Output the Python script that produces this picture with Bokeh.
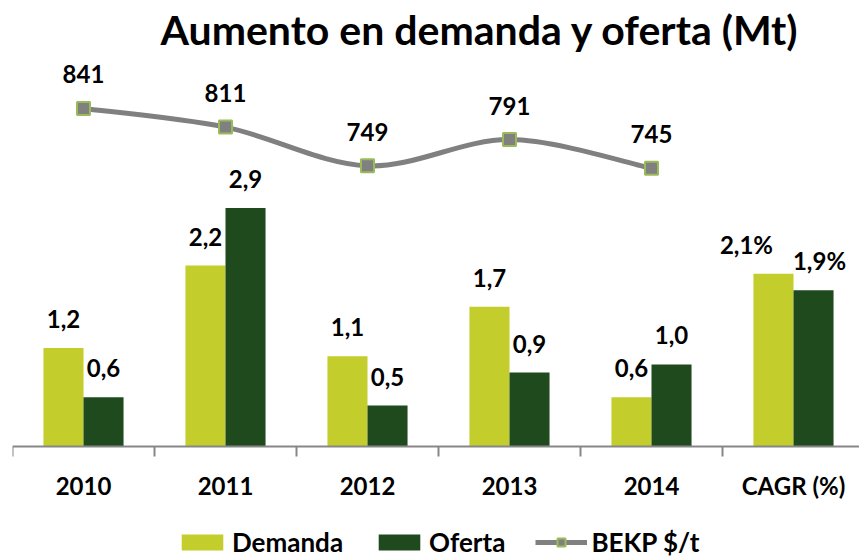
from bokeh.plotting import figure
from bokeh.models import (Range1d, FixedTicker, Legend, LegendItem,
                          ColumnDataSource, LabelSet)
from bokeh.core.properties import value
from bokeh.embed import file_html
from bokeh.resources import INLINE

# ---- data ----
categories = ["2010", "2011", "2012", "2013", "2014", "CAGR (%)"]
demanda = [1.2, 2.2, 1.1, 1.7, 0.6, 2.1]
oferta = [0.6, 2.9, 0.5, 0.9, 1.0, 1.9]
bekp_years = ["2010", "2011", "2012", "2013", "2014"]
bekp = [841, 811, 749, 791, 745]

# ---- styles ----
FONT = "Lato"
DEM_C = "#c3cd2b"
OF_C = "#1f4a1e"
GRAY = "#808080"
AXIS_C = "#878787"
dem_label_dx = [0, 0, 0, 0, 0, -27]   # pixel nudges of the data labels
of_label_dx = [0, 0, 0, 0, 0, 6]

def fmt(v, pct=False):
    s = f"{v:.1f}".replace(".", ",")
    return s + "%" if pct else s

n = len(categories)
centers = [i + 0.5 for i in range(n)]
bw = 0.282

W, H = 859, 559
LEFT = 12         # frame left (px)
CAT_W = 142       # px per category
TOP = 55          # frame top (px)
BOT = H           # frame bottom (px)
BASE = 446        # px of the bar baseline
PX_BAR = 82.5     # px per Mt
PX_BEKP = 0.625   # px per $/t
Y841 = 107        # px of first BEKP point

p = figure(width=W, height=H, output_backend="svg", toolbar_location=None,
           x_range=Range1d(0, (W - LEFT) / CAT_W),
           y_range=Range1d(-(BOT - BASE) / PX_BAR, (BASE - TOP) / PX_BAR),
           y_axis_location=None, min_border_left=LEFT, min_border_right=0,
           min_border_top=TOP, min_border_bottom=0)
p.extra_y_ranges = {"bekp": Range1d(841 - (BOT - Y841) / PX_BEKP,
                                    841 + (Y841 - TOP) / PX_BEKP)}
p.outline_line_color = None
p.xgrid.visible = False
p.ygrid.visible = False

p.title.text = "Aumento en demanda y oferta (Mt)"
p.title.text_font = FONT
p.title.text_font_size = "41px"
p.title.text_font_style = "bold"
p.title.text_color = "black"
p.title.align = "left"
p.title.offset = 148
p.title.standoff = 5

is_pct = [c.startswith("CAGR") for c in categories]
dsrc = ColumnDataSource(dict(
    x=[c - bw / 2 for c in centers], top=demanda, dx=dem_label_dx,
    lab=[fmt(v, q) for v, q in zip(demanda, is_pct)]))
osrc = ColumnDataSource(dict(
    x=[c + bw / 2 for c in centers], top=oferta, dx=of_label_dx,
    lab=[fmt(v, q) for v, q in zip(oferta, is_pct)]))

r_dem = p.vbar(x="x", top="top", width=bw, source=dsrc, fill_color=DEM_C, line_color=None)
r_of = p.vbar(x="x", top="top", width=bw, source=osrc, fill_color=OF_C, line_color=None)

for src in (dsrc, osrc):
    p.add_layout(LabelSet(x="x", y="top", text="lab", source=src, x_offset="dx",
                          y_offset=20, text_align="center", text_baseline="alphabetic",
                          text_font=value(FONT), text_font_size=value("24px"),
                          text_font_style="bold", text_color="black"))

# BEKP smoothed line (Catmull-Rom -> cubic Bezier, computed from the data)
bx = [categories.index(y) + 0.5 for y in bekp_years]
m = len(bx)
x0, y0, x1, y1, cx0, cy0, cx1, cy1 = ([] for _ in range(8))
for i in range(m - 1):
    pxm, pym = (bx[i - 1], bekp[i - 1]) if i > 0 else (bx[i], bekp[i])
    pxp, pyp = (bx[i + 2], bekp[i + 2]) if i + 2 < m else (bx[i + 1], bekp[i + 1])
    x0.append(bx[i]); y0.append(bekp[i])
    x1.append(bx[i + 1]); y1.append(bekp[i + 1])
    cx0.append(bx[i] + (bx[i + 1] - pxm) / 6); cy0.append(bekp[i] + (bekp[i + 1] - pym) / 6)
    cx1.append(bx[i + 1] - (pxp - bx[i]) / 6); cy1.append(bekp[i + 1] - (pyp - bekp[i]) / 6)
p.bezier(x0=x0, y0=y0, x1=x1, y1=y1, cx0=cx0, cy0=cy0, cx1=cx1, cy1=cy1,
         y_range_name="bekp", line_color=GRAY, line_width=5)
nan = float("nan")
r_leg_line = p.line(x=[nan, nan], y=[nan, nan], line_color=GRAY, line_width=5,
                    y_range_name="bekp")
bsrc = ColumnDataSource(dict(x=bx, y=bekp, lab=[str(v) for v in bekp]))
r_pts = p.scatter(x="x", y="y", source=bsrc, marker="square", size=13,
                  fill_color=GRAY, line_color="#9bbb59", line_width=2,
                  y_range_name="bekp")
p.add_layout(LabelSet(x="x", y="y", text="lab", source=bsrc, y_range_name="bekp",
                      y_offset=25, text_align="center", text_baseline="alphabetic",
                      text_font=value(FONT), text_font_size=value("24px"),
                      text_font_style="bold", text_color="black"))

# x axis drawn at the bar baseline
ax = p.xaxis[0]
ax.fixed_location = 0
ax.ticker = FixedTicker(ticks=centers, minor_ticks=list(range(n + 1)))
ax.major_label_overrides = {c: lab for c, lab in zip(centers, categories)}
ax.major_tick_out = 0
ax.major_tick_in = 0
ax.minor_tick_in = 0
ax.minor_tick_out = 10
ax.minor_tick_line_color = AXIS_C
ax.minor_tick_line_width = 2
ax.axis_line_color = AXIS_C
ax.axis_line_width = 2
ax.major_label_standoff = 14
ax.major_label_text_font = FONT
ax.major_label_text_font_size = "24px"
ax.major_label_text_font_style = "bold"
ax.major_label_text_color = "black"

legend = Legend(items=[
    LegendItem(label="Demanda", renderers=[r_dem]),
    LegendItem(label="Oferta", renderers=[r_of]),
    LegendItem(label="BEKP $/t", renderers=[r_leg_line, r_pts]),
], orientation="horizontal", location=(164, 1))
legend.label_text_font = FONT
legend.label_text_font_size = "26px"
legend.label_text_font_style = "bold"
legend.label_text_color = "black"
legend.glyph_width = 52
legend.glyph_height = 20
legend.label_standoff = 4
legend.spacing = 30
legend.padding = 0
legend.margin = 0
legend.border_line_alpha = 0
legend.background_fill_alpha = 0
p.add_layout(legend)

open("out.html", "w").write(file_html(p, INLINE))
